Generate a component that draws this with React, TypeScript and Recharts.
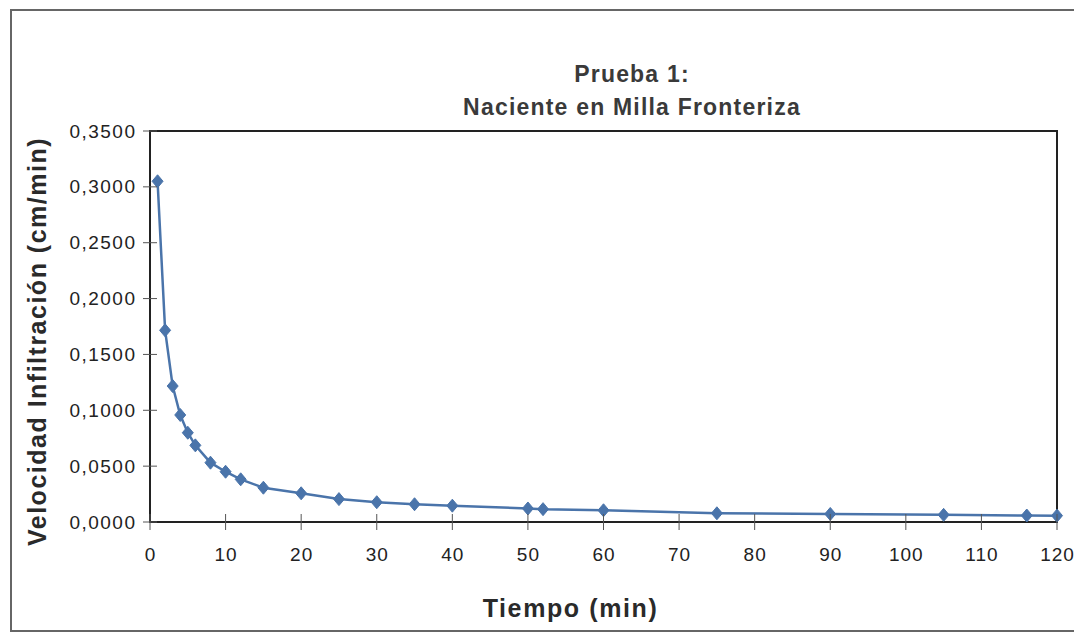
import React from 'react';
import { LineChart, Line, XAxis, YAxis, ReferenceArea, Label } from 'recharts';

const tiempo = [1, 2, 3, 4, 5, 6, 8, 10, 12, 15, 20, 25, 30, 35, 40, 50, 52, 60, 75, 90, 105, 116, 120];
const velocidad = [0.305, 0.1716, 0.1217, 0.0958, 0.0799, 0.0686, 0.0531, 0.045, 0.0382, 0.0307, 0.0257, 0.0205, 0.0177, 0.0159, 0.0146, 0.0121, 0.0115, 0.0105, 0.0078, 0.0072, 0.0064, 0.0058, 0.0057];
const xTicks = [0, 10, 20, 30, 40, 50, 60, 70, 80, 90, 100, 110, 120];
const yTicks = [0, 0.05, 0.1, 0.15, 0.2, 0.25, 0.3, 0.35];
const titleLines = ['Prueba 1:', 'Naciente en Milla Fronteriza'];
const xLabel = 'Tiempo (min)';
const yLabel = 'Velocidad Infiltración (cm/min)';

const data = tiempo.map((t, i) => ({ t, v: velocidad[i] }));

const FONT = '"Liberation Sans", Arial, sans-serif';
const BLUE = '#4a74aa';
const TS = 7;
const TM = 8;
const XTS = 8;
const XTM = 18;

const fmt = (v: number) => v.toFixed(4).replace('.', ',');

const YTick = (props: any) => {
  const { x, y, payload } = props;
  const ax = x + TS + TM;
  return (
    <g>
      <line x1={ax} x2={ax + 7} y1={y} y2={y} stroke="#555" strokeWidth={1} />
      <text x={x + 1.5} y={y} textAnchor="end" dominantBaseline="central" fontFamily={FONT} fontSize={19} letterSpacing={1.5} fill="#222">
        {fmt(payload.value)}
      </text>
    </g>
  );
};

const XTick = (props: any) => {
  const { x, y, payload } = props;
  const ay = y - XTS - XTM;
  return (
    <g>
      <line x1={x} x2={x} y1={ay} y2={ay - 8} stroke="#555" strokeWidth={1} />
      <text x={x + 0.5} y={y} dy="0.71em" textAnchor="middle" fontFamily={FONT} fontSize={19} letterSpacing={1} fill="#222">
        {payload.value}
      </text>
    </g>
  );
};

const Diamond = (props: any) => {
  const { cx, cy, index } = props;
  if (cx == null || cy == null) return null;
  const w = 5.5;
  const h = 6.5;
  return (
    <polygon
      key={index}
      points={`${cx},${cy - h} ${cx + w},${cy} ${cx},${cy + h} ${cx - w},${cy}`}
      fill={BLUE}
      stroke={BLUE}
      strokeWidth={1}
    />
  );
};

export default function App() {
  return (
    <div style={{ position: 'absolute', left: 0, top: 0, width: 1074, height: 637, background: '#fff', overflow: 'hidden' }}>
      <div
        style={{
          position: 'absolute',
          left: 10,
          top: 9,
          width: 1080,
          height: 623,
          border: '2px solid #666',
          boxSizing: 'border-box',
        }}
      />
      <div
        style={{
          position: 'absolute',
          left: 382,
          top: 58,
          width: 500,
          textAlign: 'center',
          fontFamily: FONT,
          fontWeight: 'bold',
          fontSize: 23,
          letterSpacing: 1.2,
          lineHeight: '33px',
          color: '#3a3a3a',
        }}
      >
        {titleLines.map((l) => (
          <div key={l}>{l}</div>
        ))}
      </div>
      <LineChart
        width={1074}
        height={637}
        data={data}
        margin={{ top: 131, right: 17, left: 0, bottom: 35 }}
        style={{ position: 'absolute', left: 0, top: 0 }}
      >
        <ReferenceArea x1={0} x2={120} y1={0} y2={0.35} fill="none" fillOpacity={0} stroke="#222" strokeWidth={2} ifOverflow="visible" />
        <XAxis
          dataKey="t"
          type="number"
          domain={[0, 120]}
          ticks={xTicks}
          interval={0}
          height={80}
          tickSize={XTS}
          tickMargin={XTM}
          tick={<XTick />}
          axisLine={{ stroke: '#222', strokeWidth: 2 }}
          tickLine={{ stroke: '#555' }}
        >
          <Label
            content={(p: any) => {
              const vb = p.viewBox;
              return (
                <text
                  x={vb.x + vb.width / 2 - 33}
                  y={vb.y + 86}
                  textAnchor="middle"
                  dominantBaseline="central"
                  fontFamily={FONT}
                  fontWeight="bold"
                  fontSize={25}
                  letterSpacing={1.6}
                  fill="#2a2a2a"
                >
                  {xLabel}
                </text>
              );
            }}
          />
        </XAxis>
        <YAxis
          type="number"
          domain={[0, 0.35]}
          ticks={yTicks}
          interval={0}
          width={150}
          tickSize={TS}
          tickMargin={TM}
          tick={<YTick />}
          axisLine={{ stroke: '#222', strokeWidth: 2 }}
          tickLine={{ stroke: '#555' }}
        >
          <Label
            content={(p: any) => {
              const vb = p.viewBox;
              const cx = vb.x + 37;
              const cy = vb.y + vb.height / 2 + 15;
              return (
                <text
                  x={cx}
                  y={cy}
                  transform={`rotate(-90 ${cx} ${cy})`}
                  textAnchor="middle"
                  dominantBaseline="central"
                  fontFamily={FONT}
                  fontWeight="bold"
                  fontSize={25}
                  letterSpacing={1.5}
                  fill="#2a2a2a"
                >
                  {yLabel}
                </text>
              );
            }}
          />
        </YAxis>
        <Line
          type="linear"
          dataKey="v"
          stroke={BLUE}
          strokeWidth={2.5}
          dot={<Diamond />}
          activeDot={false}
          isAnimationActive={false}
        />
      </LineChart>
    </div>
  );
}
